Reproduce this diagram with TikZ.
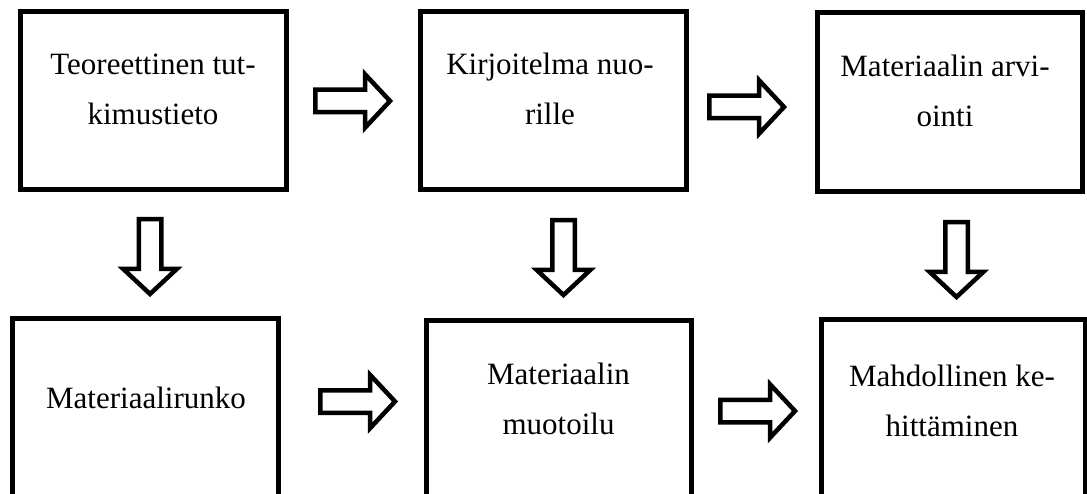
\documentclass[tikz,border=0pt]{standalone}
\usepackage{fontspec}
\setmainfont{Liberation Serif}
\begin{document}
\begin{tikzpicture}[x=1pt,y=-1pt,
  box/.style={draw=black, line width=5pt, inner sep=0pt, minimum width=#1},
  box/.default=266pt,
  label/.style={anchor=base, inner sep=0pt, font=\fontsize{31}{50}\selectfont},
  blockarrow/.pic={\draw[line width=4.5pt, miter limit=10]
     (2.25,-11.25) -- (52,-11.25) -- (52,-26.75) -- (77,0) -- (52,26.75) -- (52,11.25) -- (2.25,11.25) -- cycle;}]
\useasboundingbox (0,0) rectangle (1087,494);
\clip (0,0) rectangle (1087,494);
% boxes
\node[box=266pt, minimum height=178pt] (b1) at (153,101) {};
\node[box=266pt, minimum height=178pt] (b2) at (553,101) {};
\node[box=265pt, minimum height=179pt] (b3) at (949.5,102.5) {};
\node[box=265.5pt, minimum height=178pt] (b4) at (145.25,408) {};
\node[box=265pt, minimum height=178pt] (b5) at (558.5,410) {};
\node[box=264pt, minimum height=178pt] (b6) at (953,409) {};
% texts
\node[label] (t1) at (153,75) {\begin{tabular}[t]{@{}c@{}}Teoreettinen tut-\\kimustieto\end{tabular}};
\node[label] (t2) at (550,75) {\begin{tabular}[t]{@{}c@{}}Kirjoitelma nuo-\\rille\end{tabular}};
\node[label] (t3) at (945,77) {\begin{tabular}[t]{@{}c@{}}Materiaalin arvi-\\ointi\end{tabular}};
\node[label] (t4) at (146,408) {Materiaalirunko};
\node[label] (t5) at (558.5,384) {\begin{tabular}[t]{@{}c@{}}Materiaalin\\muotoilu\end{tabular}};
\node[label] (t6) at (952,386) {\begin{tabular}[t]{@{}c@{}}Mahdollinen ke-\\hittäminen\end{tabular}};
% block arrows
\pic (h1) at (313,101) {blockarrow};
\pic (h2) at (707,107) {blockarrow};
\pic (h3) at (318,401.5) {blockarrow};
\pic (h4) at (718,411) {blockarrow};
\pic[rotate=-90] (d1) at (150,217) {blockarrow};
\pic[rotate=-90] (d2) at (563.5,218) {blockarrow};
\pic[rotate=-90] (d3) at (956.5,220) {blockarrow};
\end{tikzpicture}
\end{document}
